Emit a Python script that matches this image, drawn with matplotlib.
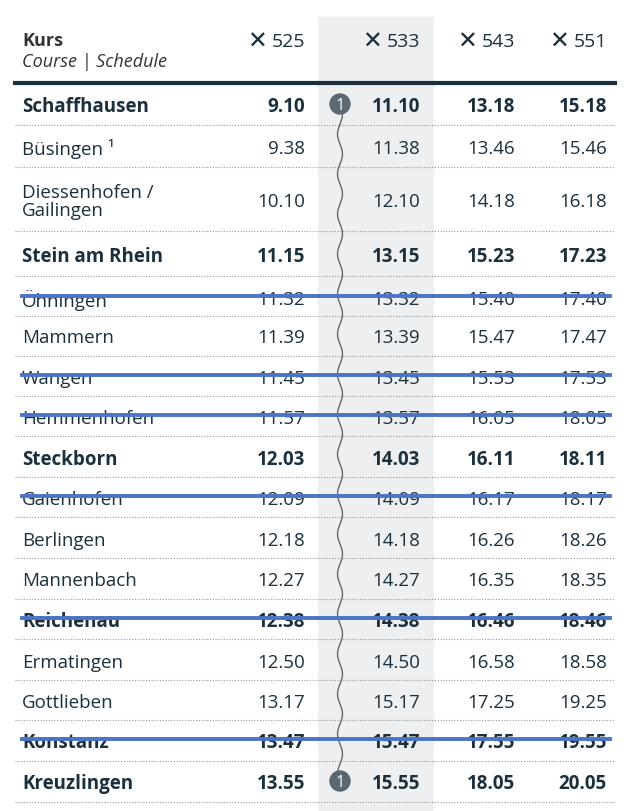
import matplotlib
matplotlib.use("Agg")
import matplotlib.pyplot as plt
import numpy as np

courses = ["525", "533", "543", "551"]
stations = ["Schaffhausen", "Büsingen ¹", "Diessenhofen /\nGailingen", "Stein am Rhein",
            "Öhningen", "Mammern", "Wangen", "Hemmenhofen", "Steckborn", "Gaienhofen",
            "Berlingen", "Mannenbach", "Reichenau", "Ermatingen", "Gottlieben",
            "Konstanz", "Kreuzlingen"]
t525 = ["9.10","9.38","10.10","11.15","11.32","11.39","11.45","11.57","12.03","12.09",
        "12.18","12.27","12.38","12.50","13.17","13.47","13.55"]
t533 = ["11.10","11.38","12.10","13.15","13.32","13.39","13.45","13.57","14.03","14.09",
        "14.18","14.27","14.38","14.50","15.17","15.47","15.55"]
t543 = ["13.18","13.46","14.18","15.23","15.40","15.47","15.53","16.05","16.11","16.17",
        "16.26","16.35","16.46","16.58","17.25","17.55","18.05"]
t551 = ["15.18","15.46","16.18","17.23","17.40","17.47","17.53","18.05","18.11","18.17",
        "18.26","18.35","18.46","18.58","19.25","19.55","20.05"]
bold = [1,0,0,1,0,0,0,0,1,0,0,0,1,0,0,1,1]
struck = [0,0,0,0,1,0,1,1,0,1,0,0,1,0,0,1,0]

ycent = [105,147,200,255,298,336,377,417,458,498,539,579,620,661,701,741,782]
seps = [126,168,232,277,317,357,397,437,478,518,559,600,640,681,721,762,803]
colx = [305,420,515,607]

FONT = "Open Sans"
C = "#1b2f3c"
fig = plt.figure(figsize=(6.28,8.12), dpi=100)
ax = fig.add_axes([0,0,1,1])
ax.set_xlim(0,628); ax.set_ylim(812,0); ax.axis("off")

ax.add_patch(plt.Rectangle((318,18),115,794,color="#eeeff1",zorder=0))
ax.text(22,41,"Kurs",fontsize=13,fontweight="bold",color="#333",family=FONT,va="center")
ax.text(22,62,"Course | Schedule",fontsize=13,style="italic",color="#333",family=FONT,va="center")
for x,c in zip(colx,courses):
    ax.text(x,42,c,fontsize=14,color=C,ha="right",va="center",family=FONT)
    ax.text(x-38,42,"✕",fontsize=17,fontweight="bold",color=C,ha="right",va="center",family="DejaVu Sans")
ax.plot([15,615],[84,84],color=C,lw=3)
for s in seps:
    ax.plot([15,615],[s,s],color="#999",lw=0.8,ls=(0,(1,1.5)))

cols = [t525,t533,t543,t551]
for i,(name,y) in enumerate(zip(stations,ycent)):
    fw = "bold" if bold[i] else "normal"
    ax.text(22,y+2,name,fontsize=13.5,fontweight=fw,color=C,va="center",family=FONT,linespacing=0.95)
    for x,col in zip(colx,cols):
        ax.text(x,y+2,col[i],fontsize=13.5,fontweight=fw,color=C,ha="right",va="center",family=FONT)
    if struck[i]:
        ax.plot([22,610],[y-1,y-1],color="#4a74c6",lw=2.8,zorder=5)

yy = np.linspace(ycent[0],ycent[-1],600)
ax.plot(340+2.5*np.sin((yy-ycent[0])/40*2*np.pi),yy,color="#666",lw=1,zorder=3)
for y in (ycent[0],ycent[-1]):
    ax.add_patch(plt.Circle((340,y),10,color="#5b6771",zorder=4))
    ax.text(340,y+1,"1",color="white",fontsize=12,ha="center",va="center",family=FONT,zorder=5)

fig.savefig("out.png",dpi=100)
